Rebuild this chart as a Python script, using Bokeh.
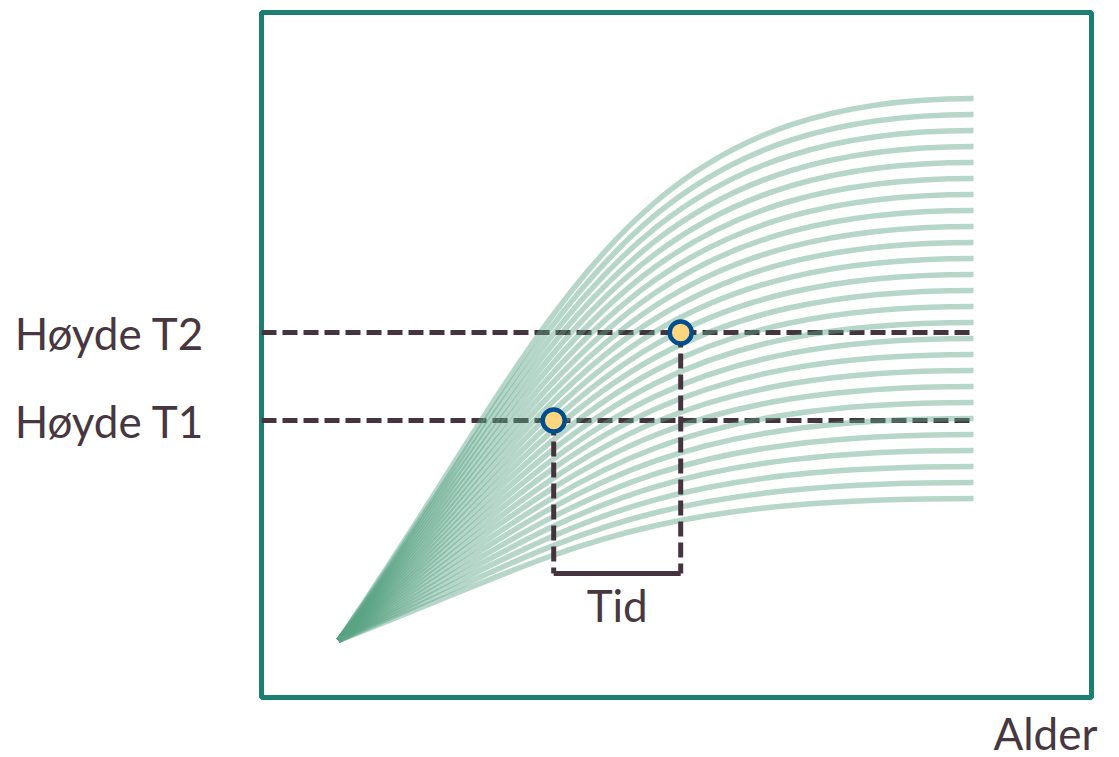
from bokeh.plotting import figure
from bokeh.models import Range1d, FixedTicker, Label, ColumnDataSource, Title
from bokeh.embed import file_html
from bokeh.resources import INLINE

# --- data -------------------------------------------------------------
start_age = 0.0          # all growth curves start here (years)
end_age = 18.0           # curves level off at adult age
start_height = 49.5      # common starting height (cm)

# adult (final) heights of the family of growth curves, top to bottom
final_heights = [185, 181, 177, 173, 169, 165, 161, 157, 153, 149, 145, 141, 137,
                 133, 129, 125, 121, 117, 113, 109, 105, 101, 97, 93, 89, 85]

# measured heights at the two time points
height_t1 = 104.5
height_t2 = 126.5
# ages at which the measurements were taken
age_t1 = 6.1
age_t2 = 9.7

height_labels = ["Høyde T1", "Høyde T2"]

# shape of a growth curve (bezier control points, as fractions of the
# age span and of the height gain)
ctrl_age_frac = [0.35, 0.45]
ctrl_gain_frac = [0.6, 1.0]

# --- styling ----------------------------------------------------------
TEXT = "#483741"
DASH = "#45343e"
FRAME = "#1b7f72"
CURVE = "#5aa585"
FONT = "Lato"

x_lo, x_hi = -2.183, 21.345
y_lo, y_hi = 35.25, 206.5
bracket_height = 66.25
tid_label_height = 58.5

p = figure(frame_width=830, frame_height=685,
           x_range=Range1d(x_lo, x_hi), y_range=Range1d(y_lo, y_hi),
           x_axis_type=None, output_backend="svg", toolbar_location=None,
           min_border_left=261, min_border_right=28,
           min_border_top=12, min_border_bottom=60)
p.grid.visible = False
p.outline_line_color = FRAME
p.outline_line_width = 5
p.background_fill_color = "white"
p.border_fill_color = "white"

# height labels on the left, via the y axis
ax = p.yaxis[0]
ax.ticker = FixedTicker(ticks=[height_t1, height_t2])
ax.major_label_overrides = {height_t1: height_labels[0], height_t2: height_labels[1]}
ax.axis_line_color = None
ax.major_tick_line_color = None
ax.minor_tick_line_color = None
ax.major_tick_out = 0
ax.major_label_standoff = 57
ax.major_label_text_font = FONT
ax.major_label_text_font_size = "44px"
ax.major_label_text_color = TEXT

# horizontal reference lines at the two measured heights
p.segment(x0=[x_lo, x_lo], y0=[height_t1, height_t2],
          x1=[end_age, end_age], y1=[height_t1, height_t2],
          line_color=DASH, line_width=5, line_dash="15 6")

# family of growth curves
n = len(final_heights)
span = end_age - start_age
curves = ColumnDataSource(dict(
    x0=[start_age] * n,
    y0=[start_height] * n,
    x1=[end_age] * n,
    y1=final_heights,
    cx0=[start_age + ctrl_age_frac[0] * span] * n,
    cy0=[start_height + ctrl_gain_frac[0] * (h - start_height) for h in final_heights],
    cx1=[start_age + ctrl_age_frac[1] * span] * n,
    cy1=[start_height + ctrl_gain_frac[1] * (h - start_height) for h in final_heights],
))
p.bezier(x0="x0", y0="y0", x1="x1", y1="y1", cx0="cx0", cy0="cy0",
         cx1="cx1", cy1="cy1", source=curves,
         line_color=CURVE, line_alpha=0.45, line_width=5.5)

# time bracket between the two measurements
p.segment(x0=[age_t1, age_t2], y0=[height_t1, height_t2],
          x1=[age_t1, age_t2], y1=[bracket_height, bracket_height],
          line_color=DASH, line_width=5, line_dash="15 6")
p.segment(x0=[age_t1], y0=[bracket_height], x1=[age_t2], y1=[bracket_height],
          line_color=DASH, line_width=5)

# measurement points
p.scatter(x=[age_t1, age_t2], y=[height_t1, height_t2], size=22,
          fill_color="#fcd77f", line_color="#004e8f", line_width=4.5)

p.add_layout(Label(x=(age_t1 + age_t2) / 2, y=tid_label_height, text="Tid",
                   text_align="center", text_baseline="alphabetic",
                   text_font=FONT, text_font_size="44px", text_color=TEXT))

# x axis name, right-aligned under the frame
p.add_layout(Title(text="Alder", align="right", offset=-6, standoff=14,
                   text_font=FONT, text_font_size="44px", text_color=TEXT,
                   text_font_style="normal"), "below")

open("out.html", "w").write(file_html(p, INLINE))
